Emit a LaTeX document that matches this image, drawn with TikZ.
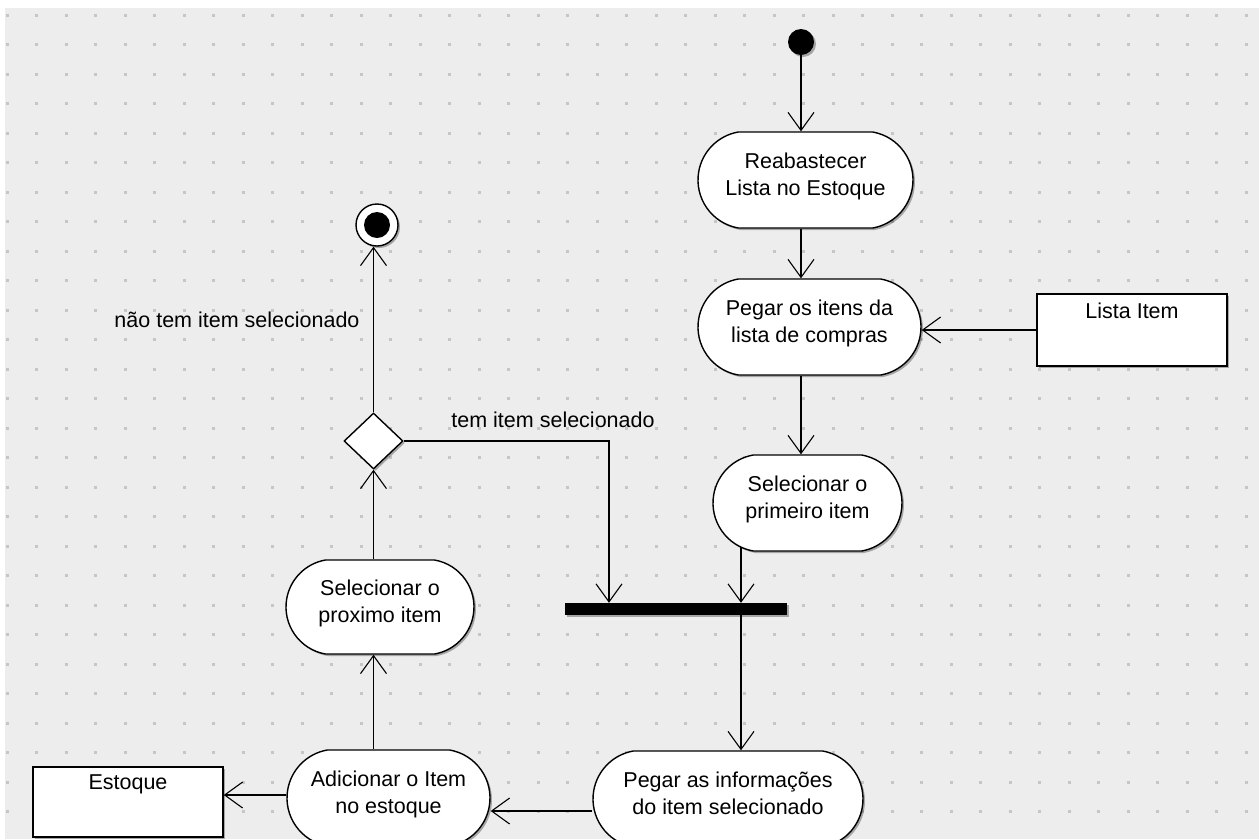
\documentclass[tikz,border=0pt]{standalone}
\usepackage{fontspec}
\setmainfont{Liberation Sans}
\usetikzlibrary{arrows.meta,shapes.misc,shapes.geometric,shadows}
\pgfdeclarelayer{back}
\pgfdeclarelayer{mid}
\pgfsetlayers{back,mid,main}
\definecolor{bggray}{HTML}{EDEDED}
\definecolor{dotgray}{HTML}{C6C6C6}
\tikzset{
  shd/.style={drop shadow={shadow xshift=2pt,shadow yshift=-2pt,opacity=0.3,fill=black}},
  act/.style={rounded rectangle, rounded rectangle arc length=160, draw=black, line width=1.4pt, fill=white, shd, align=center, font=\fontsize{21.5}{27}\selectfont, inner sep=0pt, text depth=11pt},
  obj/.style={rectangle, draw=black, line width=1.4pt, fill=white, shd, inner sep=0pt},
  lbl/.style={font=\fontsize{21.5}{27}\selectfont, inner sep=0pt},
  arr/.style={draw=black, line width=1.1pt, -{Straight Barb[length=18pt,width=26pt]}},
  conn/.style={draw=black, line width=1.1pt},
}
\begin{document}
\begin{tikzpicture}[x=1pt,y=-1pt]
\useasboundingbox (0,0) rectangle (1259,839);
\begin{pgfonlayer}{back}
\fill[white] (0,0) rectangle (1259,839);
\fill[bggray] (5,8) rectangle (1259,839);
\foreach \i in {0,...,42}{\foreach \j in {0,...,27}{\fill[dotgray] ({7+29.5*\i-1.5},{15+29.5*\j-1.5}) rectangle ++(3,3);}}
\end{pgfonlayer}

% nodes
\node[circle, fill=black, minimum size=26pt, inner sep=0pt, shd] (start) at (801,42) {};
\node[act, minimum width=215pt, minimum height=96pt] (reab) at (805.5,180) {Reabastecer\\Lista no Estoque};
\node[act, minimum width=223pt, minimum height=96pt] (pegar) at (809.5,327) {Pegar os itens da\\lista de compras};
\node[obj, minimum width=190pt, minimum height=72pt] (lista) at (1132,330) {};
\node[lbl] (listat) at ([yshift=-18pt]lista.north) {Lista Item};
\node[act, minimum width=189pt, minimum height=96pt] (selprim) at (807.5,503) {Selecionar o\\primeiro item};
\node[fill=black, minimum width=222pt, minimum height=12pt, inner sep=0pt, shd] (bar) at (676,609) {};
\node[act, minimum width=270pt, minimum height=96pt] (pegarinf) at (728,799) {Pegar as informações\\do item selecionado};
\node[act, minimum width=203pt, minimum height=96pt] (adic) at (388.5,798) {Adicionar o Item\\no estoque};
\node[obj, minimum width=190pt, minimum height=70pt] (estoque) at (128,802) {};
\node[lbl] (estoquet) at ([yshift=-18pt]estoque.north) {Estoque};
\node[act, minimum width=188pt, minimum height=94pt] (selprox) at (380,607) {Selecionar o\\proximo item};
\node[diamond, draw=black, fill=white, line width=1.4pt, minimum width=59pt, minimum height=56pt, inner sep=0pt, shd] (dec) at (373.5,441) {};
\node[circle, draw=black, fill=white, line width=1.4pt, minimum size=42pt, inner sep=0pt, shd] (final) at (377,225) {};
\node[circle, fill=black, minimum size=26pt, inner sep=0pt] (finalin) at (final) {};

\node[lbl] (lno) at (237,320) {não tem item selecionado};
\node[lbl] (lyes) at (553,420) {tem item selecionado};

% connectors
\coordinate (in1) at ([xshift=-67pt]bar.north);
\coordinate (in2) at ([xshift=65pt]bar.north);
\draw[arr] (start) -- (start |- reab.north);
\draw[arr] (reab.south -| start) -- (pegar.north -| start);
\draw[arr] (pegar.south -| start) -- (selprim.north -| start);
\draw[arr] (lista.west) -- (lista.west -| pegar.east);
\begin{pgfonlayer}{mid}
\draw[arr] (selprim.center -| in2) -- (in2);
\end{pgfonlayer}
\draw[arr] (bar.south -| in2) -- (pegarinf.north -| in2);
\draw[arr] (dec.east) -| (in1);
\draw[arr] ([yshift=-12pt]pegarinf.west) -- ([yshift=-12pt]pegarinf.west -| adic.east);
\draw[arr] ([yshift=3pt]adic.west) -- ([yshift=3pt]adic.west -| estoque.east);
\draw[arr] (adic.north -| dec) -- (selprox.south -| dec);
\draw[arr] (selprox.north -| dec) -- (dec.south);
\draw[arr] (dec.north) -- (dec.north |- final.south);
\end{tikzpicture}
\end{document}
